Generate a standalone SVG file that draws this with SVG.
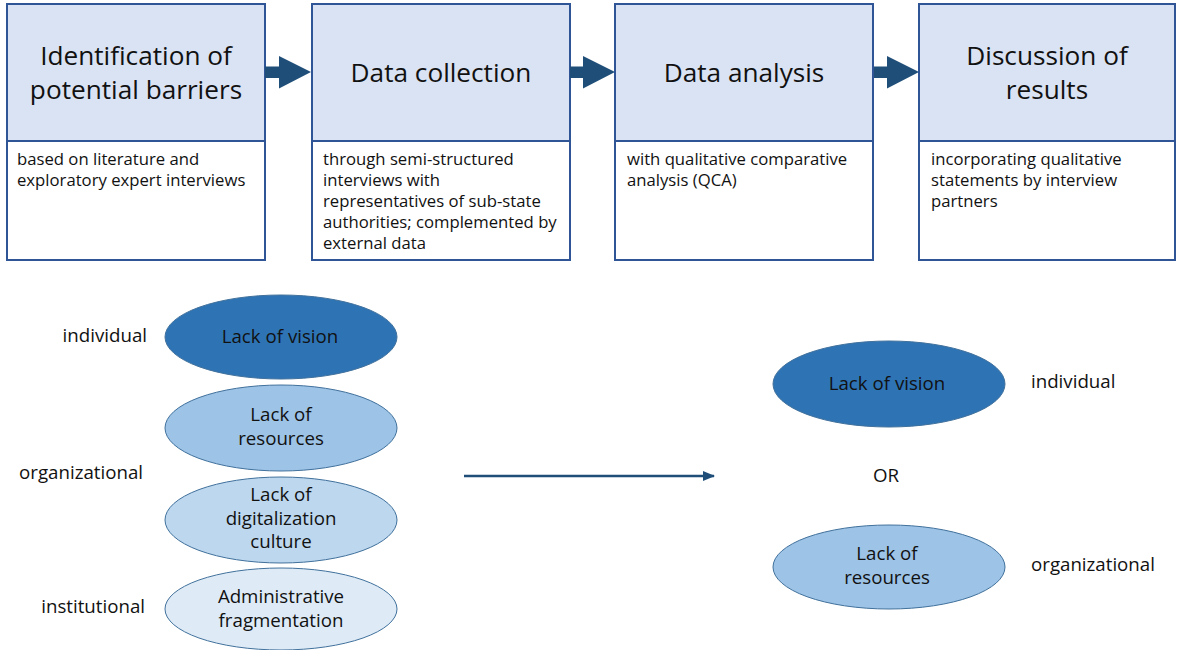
<svg xmlns="http://www.w3.org/2000/svg" width="1177" height="650" viewBox="0 0 1177 650">
<style>
.hdr{fill:#DAE3F3;stroke:#2F5597;stroke-width:2}
.body{fill:#FFFFFF;stroke:#2F5597;stroke-width:2}
.t{font-family:"Open Sans","Noto Sans","DejaVu Sans",sans-serif;fill:#111}
.h{font-size:26.2px;text-anchor:middle}
.b{font-size:16.7px}
.e{font-size:18.7px;text-anchor:middle}
.l{font-size:18.7px}
.el{stroke:#41719C;stroke-width:1}
</style>
<defs>
<marker id="ah" markerWidth="12" markerHeight="10" refX="11" refY="5" orient="auto" markerUnits="userSpaceOnUse">
<path d="M0,0 L12,5 L0,10 Z" fill="#1F4E79"/>
</marker>
</defs>
<rect width="1177" height="650" fill="#fff"/>
<g id="step1">
<rect class="hdr" x="7" y="4" width="258" height="137"/>
<rect class="body" x="7" y="141" width="258" height="119"/>
<text class="t h" x="136" y="65">Identification of</text>
<text class="t h" x="136" y="99">potential barriers</text>
<text class="t b" x="17" y="165">based on literature and</text>
<text class="t b" x="17" y="186">exploratory expert interviews</text>
</g>
<g id="step2">
<rect class="hdr" x="312" y="4" width="258" height="137"/>
<rect class="body" x="312" y="141" width="258" height="119"/>
<text class="t h" x="441" y="82">Data collection</text>
<text class="t b" x="323" y="165">through semi-structured</text>
<text class="t b" x="323" y="186">interviews with</text>
<text class="t b" x="323" y="207">representatives of sub-state</text>
<text class="t b" x="323" y="228">authorities; complemented by</text>
<text class="t b" x="323" y="249">external data</text>
</g>
<g id="step3">
<rect class="hdr" x="615" y="4" width="258" height="137"/>
<rect class="body" x="615" y="141" width="258" height="119"/>
<text class="t h" x="744" y="82">Data analysis</text>
<text class="t b" x="627" y="165">with qualitative comparative</text>
<text class="t b" x="627" y="186">analysis (QCA)</text>
</g>
<g id="step4">
<rect class="hdr" x="919" y="4" width="256" height="137"/>
<rect class="body" x="919" y="141" width="256" height="119"/>
<text class="t h" x="1047" y="65">Discussion of</text>
<text class="t h" x="1047" y="99">results</text>
<text class="t b" x="931" y="165">incorporating qualitative</text>
<text class="t b" x="931" y="186">statements by interview</text>
<text class="t b" x="931" y="207">partners</text>
</g>
<g id="left-labels">
<text class="t l" x="147" y="342" text-anchor="end">individual</text>
<text class="t l" x="143" y="479" text-anchor="end">organizational</text>
<text class="t l" x="145" y="613" text-anchor="end">institutional</text>
</g>
<g id="lack-vision-left">
<ellipse class="el" cx="281" cy="337" rx="116" ry="42" fill="#2E74B5"/>
<text class="t e" x="280" y="343">Lack of vision</text>
</g>
<g id="lack-resources-left">
<ellipse class="el" cx="281" cy="428" rx="116" ry="43" fill="#9DC3E6"/>
<text class="t e" x="281" y="421">Lack of</text>
<text class="t e" x="281" y="445">resources</text>
</g>
<g id="lack-culture-left">
<ellipse class="el" cx="281" cy="520" rx="116" ry="43" fill="#BDD7EE"/>
<text class="t e" x="281" y="501">Lack of</text>
<text class="t e" x="281" y="525">digitalization</text>
<text class="t e" x="281" y="548">culture</text>
</g>
<g id="admin-frag-left">
<ellipse class="el" cx="281" cy="609" rx="116" ry="41" fill="#DEEBF7"/>
<text class="t e" x="281" y="603">Administrative</text>
<text class="t e" x="281" y="627">fragmentation</text>
</g>
<g id="lack-vision-right">
<ellipse class="el" cx="889" cy="384" rx="116" ry="43" fill="#2E74B5"/>
<text class="t e" x="887" y="390">Lack of vision</text>
<text class="t l" x="1031" y="388">individual</text>
</g>
<g id="or-label">
<text class="t l" x="886" y="482" text-anchor="middle">OR</text>
</g>
<g id="lack-resources-right">
<ellipse class="el" cx="889" cy="567" rx="116" ry="42" fill="#9DC3E6"/>
<text class="t e" x="887" y="560">Lack of</text>
<text class="t e" x="887" y="584">resources</text>
<text class="t l" x="1031" y="571">organizational</text>
</g>
<g id="connectors">
<path d="M265,66.5 H279 V56 L311,72 L279,88.5 V78 H265 Z" fill="#1F4E79"/>
<path d="M570,66.5 H583 V56 L615,72 L583,88.5 V78 H570 Z" fill="#1F4E79"/>
<path d="M874,66.5 H887 V56 L919,72 L887,88.5 V78 H874 Z" fill="#1F4E79"/>
<line x1="464" y1="476" x2="714" y2="476" stroke="#1F4E79" stroke-width="2.5" marker-end="url(#ah)"/>
</g>
</svg>
